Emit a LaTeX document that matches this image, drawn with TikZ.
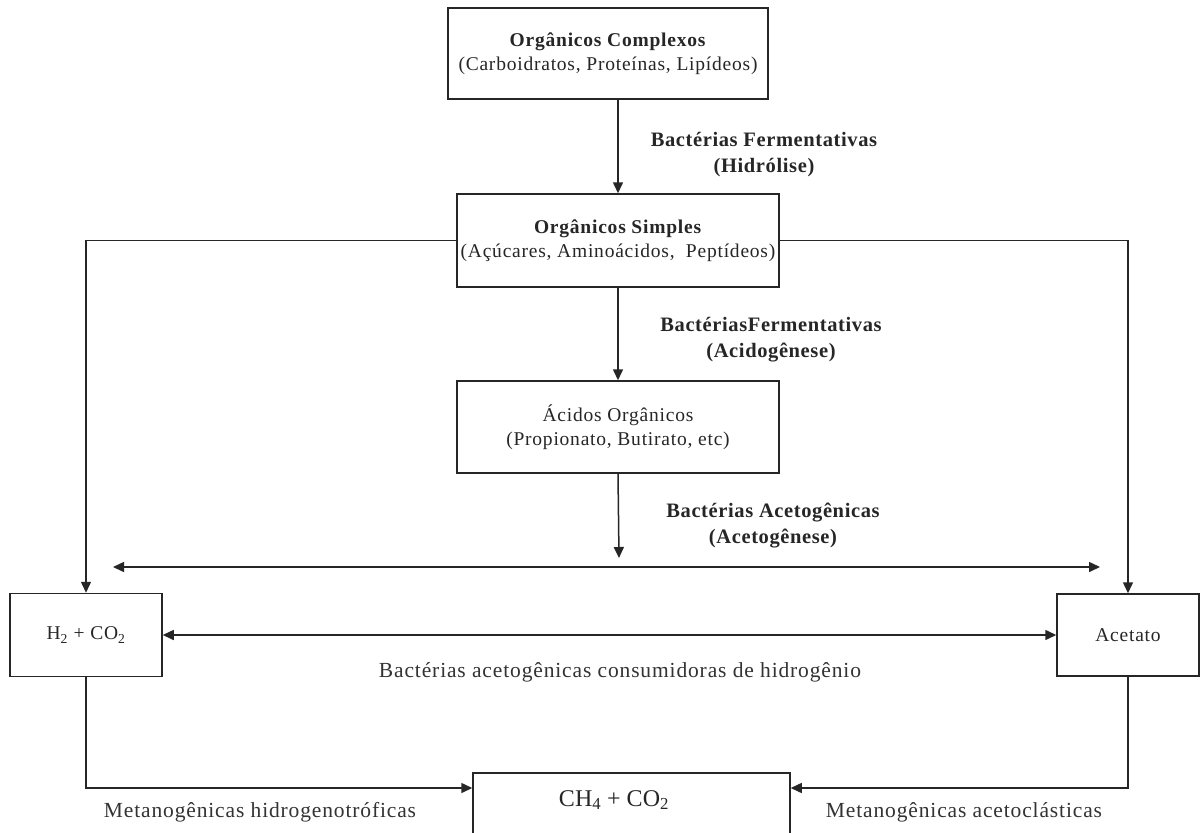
\documentclass[tikz,border=0pt]{standalone}
\usepackage{fontspec}
\setmainfont{Liberation Serif}
\usetikzlibrary{arrows.meta,calc}
\begin{document}
\begin{tikzpicture}[x=1pt,y=-1pt,
  box/.style={draw=black!85,line width=1.5pt,rectangle,align=center,inner sep=0pt},
  ln/.style={draw=black!85,line width=1.5pt},
  arr/.style={ln,-{Triangle[length=11pt,width=10pt]}},
  darr/.style={ln,{Triangle[length=11pt,width=10pt]}-{Triangle[length=11pt,width=10pt]}},
  boxtxt/.style={font=\fontsize{19.5}{24}\selectfont\addfontfeatures{LetterSpace=4},text=black!85},
  lbl/.style={font=\fontsize{20.5}{26}\selectfont\bfseries\addfontfeatures{LetterSpace=3},align=center,text=black!85},
  plain/.style={font=\fontsize{21.5}{25}\selectfont\addfontfeatures{LetterSpace=4},text=black!80}]
\clip (0,0) rectangle (1203,833);
\fill[white] (0,0) rectangle (1203,833);
% boxes
\node[box,boxtxt,minimum width=320pt,minimum height=91pt] (b1) at (608,53.5)
  {\textbf{Orgânicos Complexos}\\(Carboidratos, Proteínas, Lipídeos)};
\node[box,boxtxt,minimum width=322pt,minimum height=93pt] (b2) at (618,240.5)
  {\textbf{Orgânicos Simples}\\(Açúcares, Aminoácidos,~ Peptídeos)};
\node[box,boxtxt,minimum width=322pt,minimum height=92pt] (b3) at (618,427)
  {Ácidos Orgânicos\\(Propionato, Butirato, etc)};
\node[box,boxtxt,minimum width=152pt,minimum height=83pt] (h2) at (86,635)
  {H\textsubscript{2} + CO\textsubscript{2}};
\node[box,boxtxt,minimum width=142pt,minimum height=82pt] (ac) at (1128,635) {Acetato};
\node[box,minimum width=317pt,minimum height=90pt] (ch4) at (631.5,818) {};
\node[font=\fontsize{24}{28}\selectfont,text=black!85] (ch4t) at (614,800) {CH\textsubscript{4} + CO\textsubscript{2}};
% coordinates
\coordinate (a3end) at (619,558);
\coordinate (dl) at (113,567);
\coordinate (dr) at (1100,567);
\coordinate (lvl) at (0,788);
% vertical arrows
\draw[arr] (b2.north |- b1.south) -- (b2.north);
\draw[arr] (b2.south) -- (b3.north);
\draw[arr] (b3.south) -- (a3end);
\draw[darr] (dl) -- (dr);
% side paths
\draw[arr] (b2.west) -| (h2.north);
\draw[arr] (b2.east) -| (ac.north);
\draw[darr] (h2.east) -- (ac.west);
\draw[arr] (h2.south) |- (ch4.west |- lvl);
\draw[arr] (ac.south) |- (ch4.east |- lvl);
% labels
\node[lbl] (l1) at (764,155) {Bactérias Fermentativas\\(Hidrólise)};
\node[lbl] (l2) at (771,340) {BactériasFermentativas\\(Acidogênese)};
\node[lbl] (l3) at (773,526) {Bactérias Acetogênicas\\(Acetogênese)};
\node[plain] (l4) at (620,672) {Bactérias acetogênicas consumidoras de hidrogênio};
\node[plain] (l5) at (260,812) {Metanogênicas hidrogenotróficas};
\node[plain] (l6) at (964,812) {Metanogênicas acetoclásticas};
\end{tikzpicture}
\end{document}
